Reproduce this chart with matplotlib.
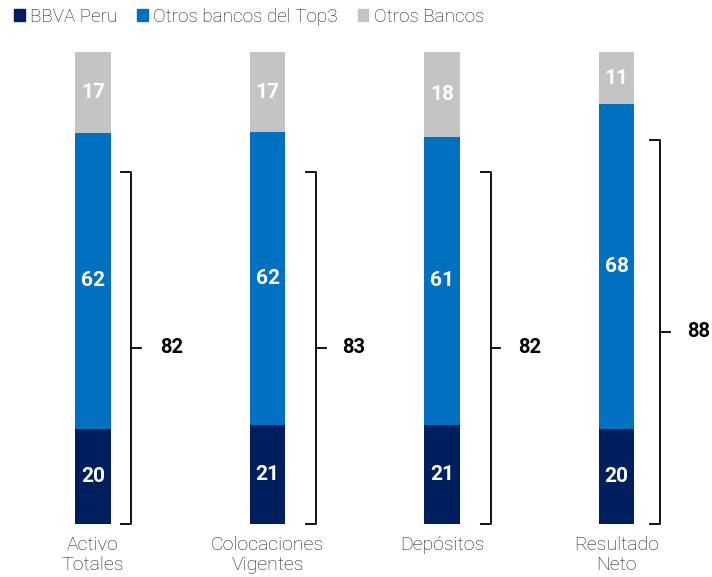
import numpy as np
import matplotlib
matplotlib.use('Agg')
import matplotlib.pyplot as plt
from matplotlib.patches import Rectangle

# ------------------ DATA ------------------

categories = ['Activo\nTotales', 'Colocaciones\nVigentes', 'Depósitos', 'Resultado\nNeto']
series_names = ['BBVA Peru', 'Otros bancos del Top3', 'Otros Bancos']
bbva = [20, 21, 21, 20]
top3 = [62, 62, 61, 68]
otros = [17, 17, 18, 11]
totals = [82, 83, 82, 88]

# bracket decoration (top of bracket in % units, horizontal offsets in bar units)
bracket_top = [74.6, 74.6, 74.6, 81.4]
bracket_dx = [0.218, 0.278, 0.28, 0.249]
label_dx = [0.453, 0.496, 0.504, 0.473]

colors = ['#001F5E', '#0070C0', '#C4C4C4']

plt.rcParams['font.family'] = ['Roboto', 'DejaVu Sans']

# ------------------ PLOT ------------------

fig = plt.figure(figsize=(7.12, 5.77), dpi=100)
ax = fig.add_axes([0, 0, 1, 1])

x = np.arange(len(categories))
data = np.array([bbva, top3, otros], dtype=float)
# shares shown over 100%
data = data / data.sum(axis=0) * 100
width = 0.205

bottom = np.zeros(len(categories))
for i, (vals, raw) in enumerate(zip(data, [bbva, top3, otros])):
    ax.bar(x, vals, width, bottom=bottom, color=colors[i], label=series_names[i])
    for xi, b, v, r in zip(x, bottom, vals, raw):
        ax.text(xi, b + v / 2, str(r), ha='center', va='center', color='white',
                fontsize=15, fontweight='bold')
    bottom += vals

# brackets
tick = 0.055
for xi, top, dx, ldx, tot in zip(x, bracket_top, bracket_dx, label_dx, totals):
    bx = xi + dx
    ax.plot([bx - tick, bx, bx, bx - tick], [top, top, 0, 0], color='black',
            lw=1.3, solid_joinstyle='round')
    ax.plot([bx, bx + tick], [top / 2, top / 2], color='black', lw=1.3)
    ax.text(xi + ldx, top / 2, str(tot), ha='center', va='center',
            fontsize=14.5, fontweight='bold', color='black')

# category labels
for xi, c in zip(x, categories):
    ax.text(xi, -2.6, c, ha='center', va='top', fontsize=14, color='#1a1a1a',
            linespacing=1.12, fontweight='light')

ax.set_xlim(-0.533, 3.547)
ax.set_ylim(-11.23, 111.0)
ax.axis('off')

handles = [Rectangle((0, 0), 1, 1, color=c) for c in colors]
fig.legend(handles, series_names, loc='upper left', bbox_to_anchor=(-0.004, 1.016),
           ncol=3, frameon=False, handlelength=0.55, handleheight=0.55,
           handletextpad=0.3, columnspacing=1.05,
           prop={'weight': 'light', 'size': 13.6})
for t in fig.legends[0].get_texts():
    t.set_color('#1a1a1a')

fig.savefig('out.png', dpi=100)
